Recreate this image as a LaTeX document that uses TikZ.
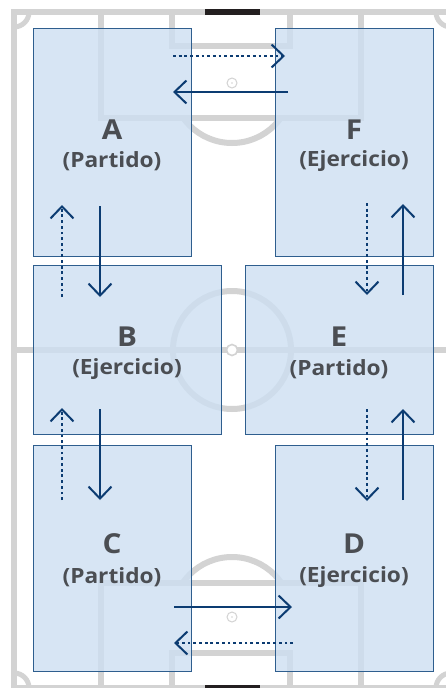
\documentclass[tikz,border=0pt]{standalone}
\usepackage{fontspec}
\setmainfont{Open Sans}
\usetikzlibrary{arrows.meta}
\definecolor{fieldline}{HTML}{D3D3D3}
\definecolor{boxfill}{HTML}{CDDFF2}
\definecolor{boxline}{HTML}{2E5E8E}
\definecolor{arrowblue}{HTML}{0C3C72}
\definecolor{txt}{HTML}{4B4E53}
\definecolor{goalblack}{HTML}{231F20}
\begin{document}
\begin{tikzpicture}[x=1pt,y=-1pt,
  fline/.style={draw=fieldline,line width=6pt},
  zone/.style={fill=boxfill,fill opacity=0.8,draw=boxline,line width=1pt,anchor=north west,inner sep=0pt},
  flow/.style={draw=arrowblue,line width=2pt,-{Straight Barb[length=12pt,width=23pt,line width=2pt]}},
  flowdot/.style={flow,line width=2.8pt,dash pattern=on 2.8pt off 2.9pt},
  letter/.style={text=txt,font=\bfseries\fontsize{27.5}{28}\selectfont,xscale=1.08,inner sep=0pt},
  role/.style={text=txt,font=\bfseries\fontsize{21}{22}\selectfont,xscale=1.08,inner sep=0pt},
]
\useasboundingbox (0,0) rectangle (446,688);
\fill[white] (0,0) rectangle (446,688);
\clip (0,0) rectangle (446,688);

% field
\draw[fline] (14,12) rectangle (451,688);
\draw[fline] (14,350) -- (451,350);
\draw[fline] (232,350) circle[radius=59pt];
% top area
\draw[fline] (101,12) rectangle (361,118);
\draw[fline] (172,12) rectangle (290,46);
\begin{scope}
  \clip (0,121) rectangle (446,220);
  \draw[fline] (232,83) circle[radius=60pt];
\end{scope}
\draw[fieldline,line width=1pt] (232,83) circle[radius=5pt];
\fill[fieldline] (232,83) circle[radius=0.8pt];
% bottom area
\draw[fline] (101,583) rectangle (361,688);
\draw[fline] (172,653) rectangle (290,688);
\begin{scope}
  \clip (0,480) rectangle (446,580);
  \draw[fline] (232,617) circle[radius=60pt];
\end{scope}
\draw[fieldline,line width=1pt] (232,617) circle[radius=5pt];
\fill[fieldline] (232,617) circle[radius=0.8pt];
% centre spot
\draw[fieldline,fill=white,line width=1.6pt] (232,350) circle[radius=5.5pt];
% corners
\begin{scope}
  \clip (14,12) rectangle (451,688);
  \foreach \cx/\cy in {14/12,451/12,14/688,451/688}
    \draw[fieldline,line width=5pt] (\cx,\cy) circle[radius=15pt];
\end{scope}
% goals
\fill[goalblack] (205,9) rectangle (260,15);
\fill[goalblack] (205,685) rectangle (260,691);

% zones
\node[zone,minimum width=158pt,minimum height=228pt] (A) at (33,28) {};
\node[zone,minimum width=158pt,minimum height=228pt] (F) at (275,28) {};
\node[zone,minimum width=188pt,minimum height=169pt] (B) at (33,265) {};
\node[zone,minimum width=188pt,minimum height=169pt] (E) at (245,265) {};
\node[zone,minimum width=158pt,minimum height=226pt] (C) at (33,445) {};
\node[zone,minimum width=158pt,minimum height=226pt] (D) at (275,445) {};

% labels
\node[letter] (Al) at (112,130) {A};
\node[role]   (Ar) at (112,161) {(Partido)};
\node[letter] (Fl) at (354,130) {F};
\node[role]   (Fr) at (354,161) {(Ejercicio)};
\node[letter] (Bl) at (127,337) {B};
\node[role]   (Br) at (127,369) {(Ejercicio)};
\node[letter] (El) at (339,337) {E};
\node[role]   (Er) at (339,369) {(Partido)};
\node[letter] (Cl) at (112,544) {C};
\node[role]   (Cr) at (112,577) {(Partido)};
\node[letter] (Dl) at (354,544) {D};
\node[role]   (Dr) at (354,577) {(Ejercicio)};

% arrow end points
\coordinate (afS) at (173,56);  \coordinate (afE) at (285,56);
\coordinate (faS) at (288,92);  \coordinate (faE) at (173,92);
\coordinate (abS) at (100,206); \coordinate (abE) at (100,297);
\coordinate (baS) at (62,297);  \coordinate (baE) at (62,205);
\coordinate (bcS) at (100,409); \coordinate (bcE) at (100,500);
\coordinate (cbS) at (62,500);  \coordinate (cbE) at (62,408);
\coordinate (feS) at (367,203); \coordinate (feE) at (367,295);
\coordinate (efS) at (403,295); \coordinate (efE) at (403,204);
\coordinate (edS) at (367,409); \coordinate (edE) at (367,501);
\coordinate (deS) at (403,500); \coordinate (deE) at (403,409);
\coordinate (cdS) at (174,607); \coordinate (cdE) at (292,607);
\coordinate (dcS) at (293,643); \coordinate (dcE) at (174,643);

\draw[flowdot] (afS) -- (afE);
\draw[flow]    (faS) -- (faE);
\draw[flow]    (abS) -- (abE);
\draw[flowdot] (baS) -- (baE);
\draw[flow]    (bcS) -- (bcE);
\draw[flowdot] (cbS) -- (cbE);
\draw[flowdot] (feS) -- (feE);
\draw[flow]    (efS) -- (efE);
\draw[flowdot] (edS) -- (edE);
\draw[flow]    (deS) -- (deE);
\draw[flow]    (cdS) -- (cdE);
\draw[flowdot] (dcS) -- (dcE);
\end{tikzpicture}
\end{document}
